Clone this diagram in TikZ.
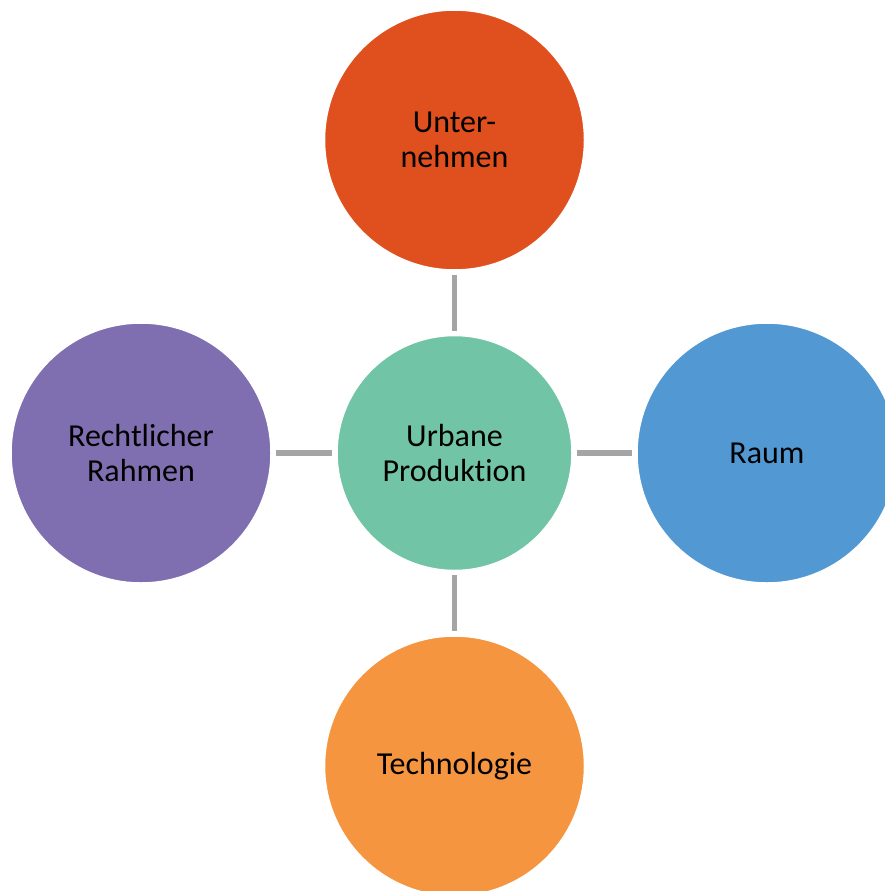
\documentclass[tikz,border=0pt]{standalone}
\usepackage{fontspec}
\setmainfont[Ligatures={NoCommon}]{Carlito}
\definecolor{cTop}{HTML}{E0501E}
\definecolor{cMid}{HTML}{71C5A6}
\definecolor{cRight}{HTML}{5299D3}
\definecolor{cBottom}{HTML}{F59540}
\definecolor{cLeft}{HTML}{7F6FB0}
\definecolor{cConn}{HTML}{A5A5A5}
\begin{document}
\begin{tikzpicture}[x=1pt,y=-1pt,
  bubble/.style={circle, draw=white, line width=1.5pt, minimum size=260pt, inner sep=0pt, align=center,
    font=\fontsize{32}{35}\selectfont, text=black},
  hub/.style={bubble, minimum size=235pt},
  conn/.style={draw=cConn, line width=5.5pt, shorten <=4pt, shorten >=4pt}]
\useasboundingbox (0,0) rectangle (885,891);
\clip (0,0) rectangle (885,891);
\node[hub, fill=cMid] (mid) at (454.5,453) {Urbane\\Produktion};
\node[bubble, fill=cTop] (top) at (454.5,140) {Unter-\\nehmen};
\node[bubble, fill=cRight] (right) at (767,453) {Raum};
\node[bubble, fill=cBottom] (bottom) at (454.5,766) {Technologie};
\node[bubble, fill=cLeft] (left) at (141,453) {Rechtlicher\\Rahmen};
\draw[conn] (top) -- (mid);
\draw[conn] (left) -- (mid);
\draw[conn] (mid) -- (right);
\draw[conn] (mid) -- (bottom);
\end{tikzpicture}
\end{document}
